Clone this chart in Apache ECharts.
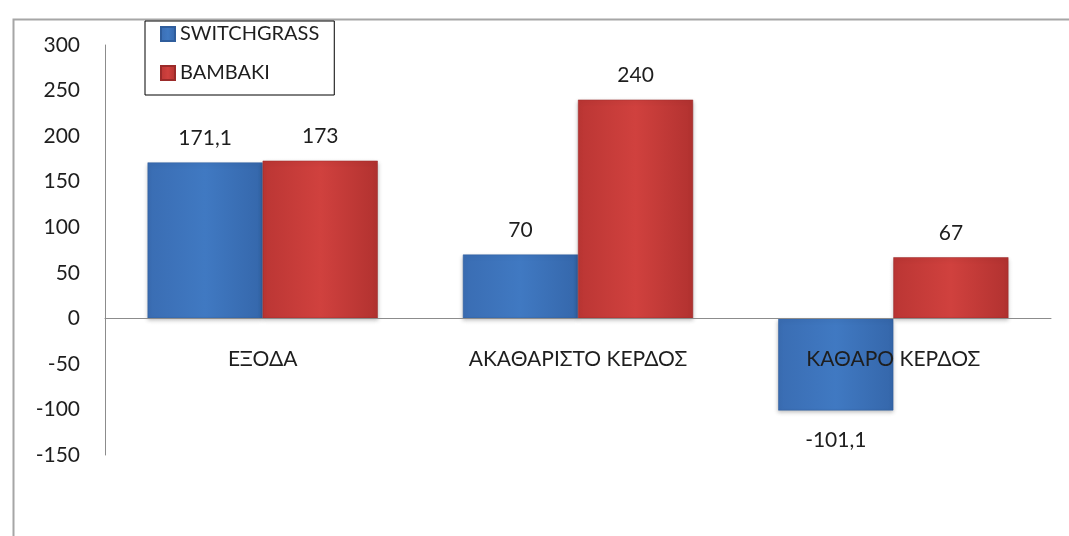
<!DOCTYPE html>
<html>
<head>
<meta charset="utf-8">
<script src="https://cdn.jsdelivr.net/npm/echarts@6/dist/echarts.min.js"></script>
<style>html,body{margin:0;padding:0;background:#fff;}#c{width:1069px;height:536px;}</style>
</head>
<body>
<div id="c"></div>
<script>
const categories = ['ΕΞΟΔΑ', 'ΑΚΑΘΑΡΙΣΤΟ ΚΕΡΔΟΣ', 'ΚΑΘΑΡΟ ΚΕΡΔΟΣ'];
const seriesNames = ['SWITCHGRASS', 'BAMBAKI'];
const switchgrass = [171.1, 70, -101.1];
const bambaki = [173, 240, 67];
const yMin = -150, yMax = 300, yStep = 50;

const FONT = 'Lato';
const GRID_TOP = 45, GRID_BOTTOM = 81, H = 536;
const plotH = H - GRID_TOP - GRID_BOTTOM;
const zeroOffset = -plotH * (0 - yMin) / (yMax - yMin);

const fmt = v => String(v).replace('.', ',');
function toData(arr) {
  return arr.map(v => v < 0 ? {value: v, label: {position: 'bottom', distance: 19}} : v);
}
function grad(c1, c2, c3) {
  return new echarts.graphic.LinearGradient(0, 0, 1, 0, [
    {offset: 0, color: c1}, {offset: 0.5, color: c2}, {offset: 1, color: c3}
  ]);
}
const chart = echarts.init(document.getElementById('c'));
const labelCfg = {
  show: true, position: 'top', distance: 14,
  formatter: p => fmt(p.value), fontFamily: FONT, fontSize: 21, color: '#1e1e1e'
};
chart.setOption({
  animation: false,
  backgroundColor: '#fff',
  graphic: [{
    type: 'rect', left: 11, top: 17, z: -1,
    shape: {width: 1200, height: 700},
    style: {fill: 'none', stroke: '#a6a6a6', lineWidth: 2}
  }],
  legend: {
    orient: 'vertical', left: 145, top: 21,
    padding: [3, 15, 12, 15], itemGap: 19,
    itemWidth: 14, itemHeight: 14, icon: 'rect',
    borderColor: '#000', borderWidth: 1,
    textStyle: {fontFamily: FONT, fontSize: 20, color: '#1e1e1e'},
    data: seriesNames
  },
  grid: {left: 105, right: 18, top: GRID_TOP, bottom: GRID_BOTTOM, containLabel: false},
  xAxis: {
    type: 'category', data: categories, z: 5,
    offset: zeroOffset,
    axisLine: {onZero: false, lineStyle: {color: '#8c8c8c', width: 1}},
    axisTick: {show: false},
    axisLabel: {margin: 30, fontFamily: FONT, fontSize: 21, color: '#1e1e1e'}
  },
  yAxis: {
    type: 'value', min: yMin, max: yMax, interval: yStep,
    axisLine: {show: true, lineStyle: {color: '#8c8c8c', width: 1}},
    axisTick: {show: false},
    splitLine: {show: false},
    axisLabel: {margin: 25, fontFamily: FONT, fontSize: 21, color: '#1e1e1e'}
  },
  series: [
    {
      name: seriesNames[0], type: 'bar', data: toData(switchgrass),
      barGap: '0%', barCategoryGap: '27%',
      itemStyle: {color: grad('#3a6db3', '#4079c2', '#3567ab'), borderColor: '#2f5d9c', borderWidth: 0.5,
        shadowColor: 'rgba(0,0,0,0.25)', shadowBlur: 4, shadowOffsetY: 2},
      label: labelCfg
    },
    {
      name: seriesNames[1], type: 'bar', data: toData(bambaki),
      itemStyle: {color: grad('#bb3634', '#d0413e', '#b23230'), borderColor: '#9b2b2a', borderWidth: 0.5,
        shadowColor: 'rgba(0,0,0,0.25)', shadowBlur: 4, shadowOffsetY: 2},
      label: labelCfg
    }
  ]
});
</script>
</body>
</html>
